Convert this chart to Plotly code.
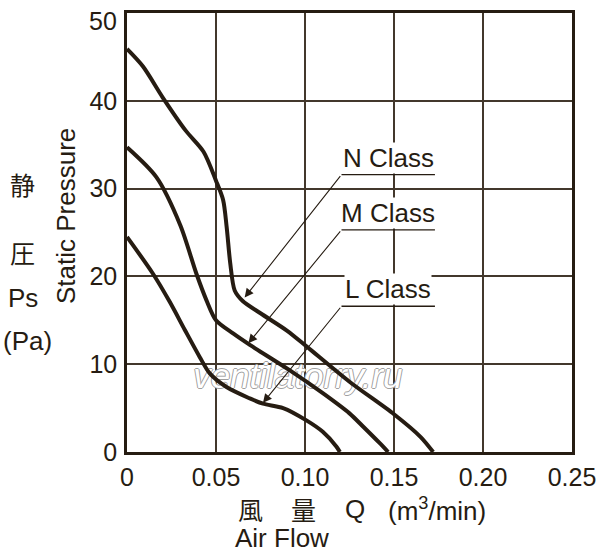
import plotly.graph_objects as go

# ---- data ----
n_q = [0, 0.009, 0.020, 0.033, 0.043, 0.050, 0.054, 0.056, 0.058, 0.0605, 0.065, 0.075, 0.090, 0.101, 0.125, 0.150, 0.165, 0.172]
n_p = [45.9, 43.9, 40.4, 36.6, 34.2, 30.9, 28.7, 25.6, 21.5, 18.4, 17.2, 15.8, 13.8, 12.0, 8.0, 4.3, 1.7, 0]

m_q = [0, 0.0165, 0.030, 0.039, 0.0446, 0.050, 0.0596, 0.069, 0.0915, 0.110, 0.125, 0.1326, 0.142, 0.1467]
m_p = [34.7, 31.3, 25.8, 20.3, 17.3, 15.0, 13.5, 12.2, 9.3, 6.7, 4.4, 2.9, 1.0, 0]

l_q = [0, 0.0146, 0.024, 0.0325, 0.0409, 0.0465, 0.0559, 0.069, 0.0764, 0.0877, 0.1008, 0.110, 0.1177, 0.1196]
l_p = [24.5, 20.3, 17.1, 13.9, 10.8, 8.95, 7.4, 6.1, 5.5, 5.0, 3.6, 2.3, 0.6, 0]

x_ticks = [0, 0.05, 0.10, 0.15, 0.20, 0.25]
x_ticktext = ["0", "0.05", "0.10", "0.15", "0.20", "0.25"]
y_ticks = [0, 10, 20, 30, 40, 50]

class_names = ["N Class", "M Class", "L Class"]
label_y = [31.6, 25.3, 16.6]          # underline heights
arrow_tip_q = [0.0661, 0.0682, 0.0764]
arrow_tip_p = [17.6, 12.4, 5.6]
label_q0, label_q1 = 0.1205, 0.173

watermark = "ventilatorry.ru"

# ---- style ----
INK = "#261c12"
GRID = "#43382c"
FONT = "Liberation Sans, Arial, Helvetica, sans-serif"
CJK = "Noto Sans CJK JP, sans-serif"

W, H = 600, 558
L, R, T, B = 127, 28, 13, 106
pw, ph = W - L - R, H - T - B


def px(x):
    return (x - L) / pw


def py(y):
    return (H - B - y) / ph


fig = go.Figure()
# watermark (beneath the curves)
fig.add_trace(go.Scatter(x=[0.096], y=[8.3], mode="text", text=[watermark],
                         textposition="middle center",
                         textfont=dict(family=FONT, size=35, color="white", style="italic",
                                       shadow="1px 0 0 #a0a0a0, -1px 0 0 #a0a0a0, 0 1px 0 #a0a0a0, 0 -1px 0 #a0a0a0"),
                         hoverinfo="skip", showlegend=False))
for q, p in [(n_q, n_p), (m_q, m_p), (l_q, l_p)]:
    fig.add_trace(go.Scatter(x=q, y=p, mode="lines",
                             line=dict(color=INK, width=4, shape="spline", smoothing=0.8),
                             hoverinfo="skip", showlegend=False))

ann = []
shapes = []
for name, yy, tq, tp in zip(class_names, label_y, arrow_tip_q, arrow_tip_p):
    ann.append(dict(x=(label_q0 + label_q1) / 2, y=yy, xref="x", yref="y",
                    text=name, showarrow=False, xanchor="center", yanchor="bottom",
                    font=dict(family=FONT, size=26, color=INK),
                    bgcolor="white", borderpad=0, yshift=1))
    shapes.append(dict(type="line", xref="x", yref="y", x0=label_q0, x1=label_q1,
                       y0=yy, y1=yy, line=dict(color=INK, width=1.3), layer="above"))
    ann.append(dict(x=tq, y=tp, xref="x", yref="y", ax=label_q0, ay=yy,
                    axref="x", ayref="y", text="", showarrow=True,
                    arrowhead=2, arrowsize=1.6, arrowwidth=1.1, arrowcolor=INK,
                    standoff=0))

# top y tick label sits slightly below its gridline in the reference
ann.append(dict(x=0, y=y_ticks[-1], xref="paper", yref="y", text=str(y_ticks[-1]),
                xanchor="right", yanchor="middle", xshift=-8, yshift=-8,
                showarrow=False, font=dict(family=FONT, size=25, color=INK)))


def label(xw, yw, text, family=FONT, size=26, angle=0):
    return dict(x=px(xw), y=py(yw), xref="paper", yref="paper", text=text,
                xanchor="center", yanchor="middle", textangle=angle,
                showarrow=False, font=dict(family=family, size=size, color=INK))


ann += [
    label(66, 216, "Static Pressure", angle=-90),
    label(22, 184, "静", family=CJK, size=25),
    label(22, 252, "圧", family=CJK, size=25),
    label(23, 298, "Ps"),
    label(27, 341, "(Pa)"),
    label(250, 509, "風", family=CJK, size=25),
    label(303, 509, "量", family=CJK, size=25),
    label(355, 509, "Q"),
    label(437, 509, "(m<sup>3</sup>/min)"),
    label(282, 538, "Air Flow"),
]

fig.update_layout(
    width=W, height=H,
    margin=dict(l=L, r=R, t=T, b=B, autoexpand=False),
    paper_bgcolor="white", plot_bgcolor="white",
    annotations=ann, shapes=shapes,
    showlegend=False,
)
fig.update_xaxes(range=[0, 0.25], tickvals=x_ticks, ticktext=x_ticktext,
                 automargin=False,
                 showgrid=True, gridcolor=GRID, gridwidth=1.5,
                 showline=True, linecolor=INK, linewidth=2.5, mirror=True,
                 zeroline=False, ticks="", ticklabelstandoff=1,
                 ticklabeloverflow="allow",
                 tickfont=dict(family=FONT, size=25, color=INK))
fig.update_yaxes(range=[0, 50], tickvals=y_ticks, ticktext=[str(v) for v in y_ticks[:-1]] + [""],
                 automargin=False,
                 showgrid=True, gridcolor=GRID, gridwidth=1.5,
                 showline=True, linecolor=INK, linewidth=2.5, mirror=True,
                 zeroline=False, ticks="", ticklabelstandoff=2,
                 ticklabeloverflow="allow",
                 tickfont=dict(family=FONT, size=25, color=INK))

fig.write_html("out.html", config={"displayModeBar": False},
               post_script="document.body.style.margin='0px';")
